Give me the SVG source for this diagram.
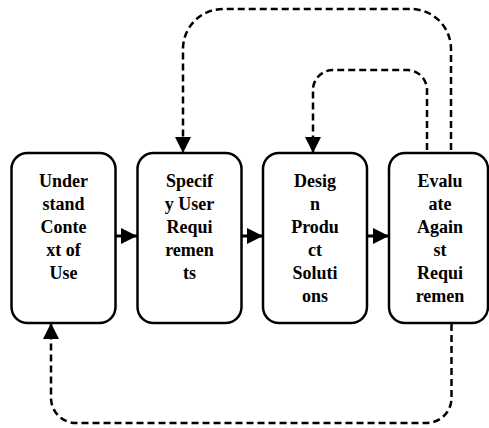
<svg xmlns="http://www.w3.org/2000/svg" width="489" height="428" viewBox="0 0 489 428">
<style>
.box{fill:#fff;stroke:#000;stroke-width:2.5}
.lbl{font-family:'Liberation Serif','Times New Roman','DejaVu Serif',serif;font-weight:bold;font-size:18px;text-anchor:middle;fill:#000}
.solid{fill:none;stroke:#000;stroke-width:3}
.dash{fill:none;stroke:#000;stroke-width:2.5;stroke-dasharray:7,4}
</style>
<defs>
<marker id="ah" viewBox="0 0 16 16" refX="16" refY="8" markerWidth="16" markerHeight="16" markerUnits="userSpaceOnUse" orient="auto">
<path d="M0,0 L16,8 L0,16 z" fill="#000"/>
</marker>
</defs>
<rect width="489" height="428" fill="#fff"/>
<g id="connectors">
<line class="solid" x1="115.5" y1="236" x2="137" y2="236" marker-end="url(#ah)"/>
<line class="solid" x1="241.5" y1="236" x2="263" y2="236" marker-end="url(#ah)"/>
<line class="solid" x1="367" y1="236" x2="389" y2="236" marker-end="url(#ah)"/>
<path class="dash" d="M451,150 V49 A40,40 0 0 0 411,9 H223 A40,40 0 0 0 183,49 V153" marker-end="url(#ah)"/>
<path class="dash" d="M427,150 V90 A20,20 0 0 0 407,70 H333 A20,20 0 0 0 313,90 V153" marker-end="url(#ah)"/>
<path class="dash" d="M451.5,324 V398 A25,25 0 0 1 426.5,423 H76 A25,25 0 0 1 51,398 V323" marker-end="url(#ah)"/>
</g>
<g id="n1">
<rect class="box" x="11.5" y="153" width="104" height="170" rx="16"/>
<text class="lbl" x="63.5" y="187">Under</text>
<text class="lbl" x="63.5" y="210">stand</text>
<text class="lbl" x="63.5" y="233">Conte</text>
<text class="lbl" x="63.5" y="256">xt of</text>
<text class="lbl" x="63.5" y="279">Use</text>
</g>
<g id="n2">
<rect class="box" x="137.5" y="153" width="104" height="170" rx="16"/>
<text class="lbl" x="189.5" y="187">Specif</text>
<text class="lbl" x="189.5" y="210">y User</text>
<text class="lbl" x="189.5" y="233">Requi</text>
<text class="lbl" x="189.5" y="256">remen</text>
<text class="lbl" x="189.5" y="279">ts</text>
</g>
<g id="n3">
<rect class="box" x="263" y="153" width="104" height="170" rx="16"/>
<text class="lbl" x="315" y="187">Desig</text>
<text class="lbl" x="315" y="210">n</text>
<text class="lbl" x="315" y="233">Produ</text>
<text class="lbl" x="315" y="256">ct</text>
<text class="lbl" x="315" y="279">Soluti</text>
<text class="lbl" x="315" y="302">ons</text>
</g>
<g id="n4">
<rect class="box" x="389" y="153" width="99" height="170" rx="16"/>
<text class="lbl" x="440" y="187">Evalu</text>
<text class="lbl" x="440" y="210">ate</text>
<text class="lbl" x="440" y="233">Again</text>
<text class="lbl" x="440" y="256">st</text>
<text class="lbl" x="440" y="279">Requi</text>
<text class="lbl" x="440" y="302">remen</text>
</g>
</svg>
